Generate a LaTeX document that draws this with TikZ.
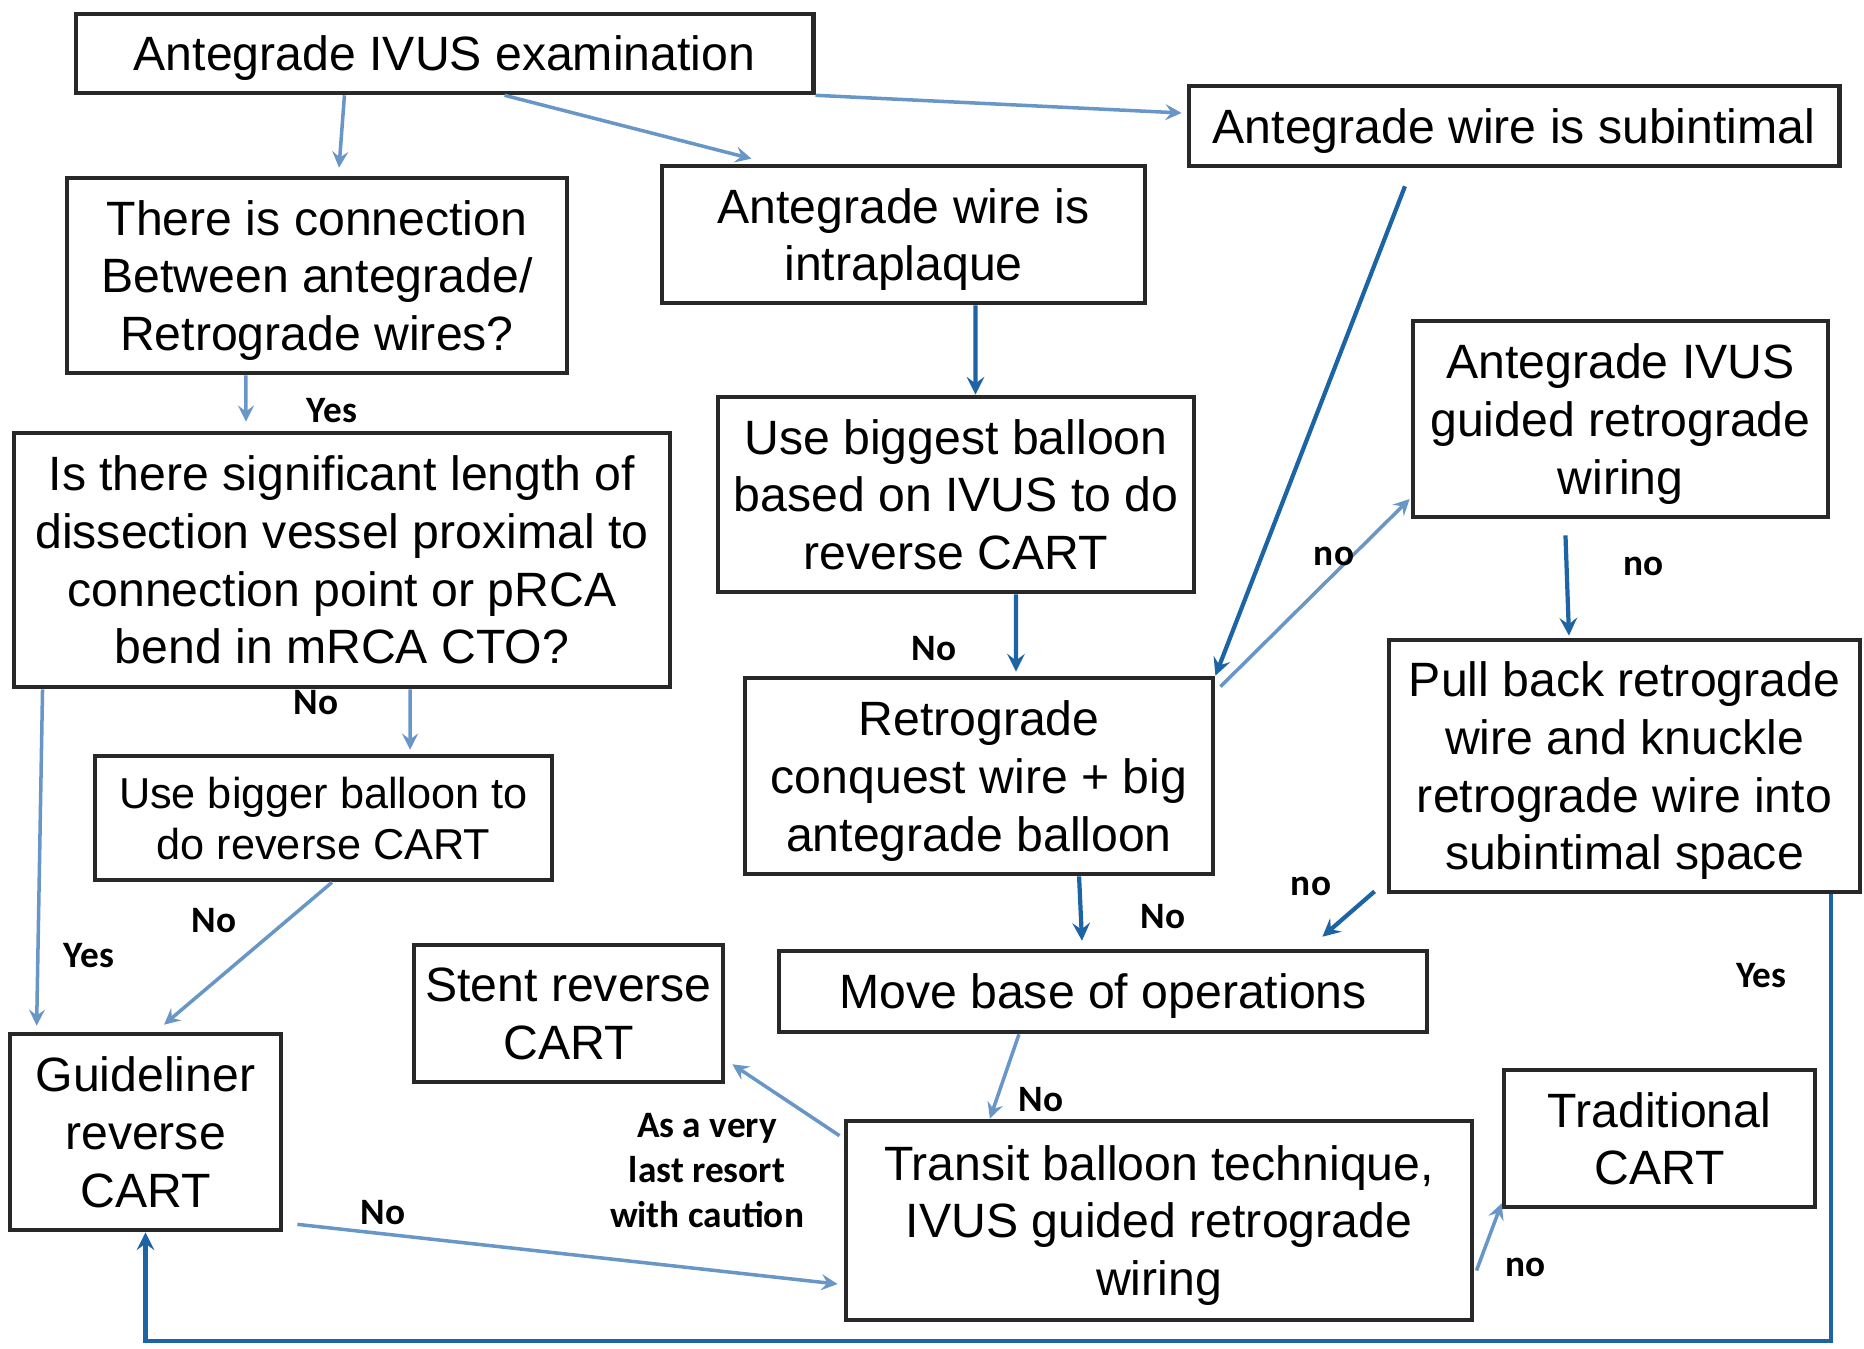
\documentclass[tikz,border=0pt]{standalone}
\usepackage{fontspec}
\setmainfont{Liberation Sans}
\newfontfamily\lblfont{Carlito}
\usepackage{xcolor}
\usetikzlibrary{calc, positioning}

\definecolor{boxline}{RGB}{40,40,40}
\definecolor{paleblue}{RGB}{104,150,198}
\definecolor{deepblue}{RGB}{28,100,164}

\begin{document}
\begin{tikzpicture}[>=stealth, x=0.01cm, y=-0.01cm,
    box/.style={draw=boxline, line width=1.3pt, align=center, inner sep=0pt,
                text depth=-3pt, font=\fontsize{13.7}{16.4}\selectfont},
    lbl/.style={font=\lblfont\bfseries\fontsize{10.6}{12.8}\selectfont,
                align=center, inner sep=0pt},
    pale/.style={->, draw=paleblue, line width=1pt},
    deep/.style={->, draw=deepblue, line width=1.2pt}]

    % =================================================================
    % 1. KHUNG HINH
    % =================================================================
    \useasboundingbox (0,0) rectangle (1864,1349);

    % =================================================================
    % 2. CAC HOP
    % =================================================================
    \node[box, minimum width=7.37cm, minimum height=0.79cm] (Exam) at (444.5,53.5)
        {Antegrade IVUS examination};
    \node[box, minimum width=6.50cm, minimum height=0.80cm] (Subint) at (1514,126)
        {Antegrade wire is subintimal};
    \node[box, minimum width=5.00cm, minimum height=1.95cm] (Connect) at (317,275.5)
        {There is connection\\Between antegrade/\\Retrograde wires?};
    \node[box, minimum width=4.83cm, minimum height=1.37cm] (Intra) at (903.5,234.5)
        {Antegrade wire is\\intraplaque};
    \node[box, minimum width=6.56cm, minimum height=2.54cm] (Signif) at (342,560)
        {Is there significant length of\\dissection vessel proximal to\\connection point or pRCA\\bend in mRCA CTO?};
    \node[box, minimum width=4.76cm, minimum height=1.95cm] (Biggest) at (956,494.5)
        {Use biggest balloon\\based on IVUS to do\\reverse CART};
    \node[box, minimum width=4.15cm, minimum height=1.96cm] (Guided) at (1620.5,419)
        {Antegrade IVUS\\guided retrograde\\wiring};
    \node[box, minimum width=4.68cm, minimum height=1.96cm] (Conquest) at (979,776)
        {Retrograde\\conquest wire + big\\antegrade balloon};
    \node[box, minimum width=4.71cm, minimum height=2.52cm] (Pull) at (1624.5,766)
        {Pull back retrograde\\wire and knuckle\\retrograde wire into\\subintimal space};
    \node[box, minimum width=4.57cm, minimum height=1.24cm,
          font=\fontsize{12.3}{14.5}\selectfont] (Bigger) at (323.5,818)
        {Use bigger balloon to\\do reverse CART};
    \node[box, minimum width=6.48cm, minimum height=0.81cm] (Move) at (1103,991.5)
        {Move base of operations};
    \node[box, minimum width=3.09cm, minimum height=1.37cm] (Stent) at (568.5,1013.5)
        {Stent reverse\\CART};
    \node[box, minimum width=2.71cm, minimum height=1.96cm] (Guide) at (145.5,1132)
        {Guideliner\\reverse\\CART};
    \node[box, minimum width=6.26cm, minimum height=1.99cm] (Transit) at (1159,1220.5)
        {Transit balloon technique,\\IVUS guided retrograde\\wiring};
    \node[box, minimum width=3.11cm, minimum height=1.37cm] (Trad) at (1659.5,1138.5)
        {Traditional\\CART};

    % =================================================================
    % 3. CAC MUI TEN
    % =================================================================
    \draw[pale] ([xshift=-1.0cm]Exam.south) -- ([xshift=0.22cm,yshift=0.08cm]Connect.north);
    \draw[pale] ([xshift=0.6cm]Exam.south) -- ([xshift=-1.52cm,yshift=0.05cm]Intra.north);
    \draw[pale] (Exam.south east) -- ([xshift=-0.05cm,yshift=0.13cm]Subint.west);
    \draw[deep] ([xshift=-1.09cm,yshift=-0.18cm]Subint.south) -- (Conquest.north east);
    \draw[deep] ([xshift=0.72cm]Intra.south) -- ([xshift=0.195cm]Biggest.north);
    \draw[deep] ([xshift=0.6cm]Biggest.south) -- ([xshift=0.37cm,yshift=0.04cm]Conquest.north);
    \draw[pale] ([xshift=-0.71cm]Connect.south) -- ([xshift=-0.96cm,yshift=0.09cm]Signif.north);
    \draw[pale] ([xshift=0.68cm]Signif.south) -- ([xshift=0.865cm,yshift=0.04cm]Bigger.north);
    \draw[pale] ([xshift=0.31cm]Signif.south west) -- ([xshift=0.29cm,yshift=0.06cm]Guide.north west);
    \draw[pale] ([xshift=0.085cm]Bigger.south) -- ([xshift=0.185cm,yshift=0.07cm]Guide.north);
    \draw[pale] ([xshift=0.05cm,yshift=-0.11cm]Conquest.north east) -- ([xshift=-0.01cm,yshift=-0.8cm]Guided.west);
    \draw[deep] ([xshift=-0.55cm,yshift=-0.16cm]Guided.south) -- ([xshift=-0.555cm,yshift=0.02cm]Pull.north);
    \draw[deep] ([xshift=-0.12cm,yshift=0.03cm]Pull.south west) -- ([xshift=-1.07cm,yshift=0.12cm]Move.north east);
    \draw[deep] ([xshift=1.0cm]Conquest.south) -- ([xshift=-0.21cm,yshift=0.08cm]Move.north);
    \draw[pale] ([xshift=-0.84cm]Move.south) -- ([xshift=-1.69cm]Transit.north);
    \draw[pale] ([xshift=-0.04cm,yshift=-0.17cm]Transit.north west) -- ([xshift=0.07cm,yshift=0.2cm]Stent.south east);
    \draw[pale] ([xshift=0.14cm,yshift=0.08cm]Guide.south east) -- ([xshift=-0.06cm,yshift=-0.635cm]Transit.west);
    \draw[pale] ([xshift=0.02cm,yshift=-0.5cm]Transit.east) -- ([yshift=0.06cm]Trad.south west);

    % Vong ve tu Pull ve Guideliner
    \coordinate (LoopCorner) at (1831,1341);
    \draw[deep] (LoopCorner |- Pull.south) -- (LoopCorner) -| (Guide.south);

    % =================================================================
    % 4. NHAN
    % =================================================================
    \node[lbl] (YesA) at (332,411) {Yes};
    \node[lbl] (NoA) at (316,703) {No};
    \node[lbl] (YesB) at (89,956) {Yes};
    \node[lbl] (NoB) at (214,921) {No};
    \node[lbl] (NoC) at (934,649) {No};
    \node[lbl] (noD) at (1334,556) {no};
    \node[lbl] (noE) at (1643,566) {no};
    \node[lbl] (noF) at (1311,886) {no};
    \node[lbl] (NoG) at (1163,917) {No};
    \node[lbl] (NoH) at (1041,1100) {No};
    \node[lbl] (Resort) at (707,1171) {As a very\\last resort\\with caution};
    \node[lbl] (NoI) at (383,1213) {No};
    \node[lbl] (noJ) at (1525,1267) {no};
    \node[lbl] (YesC) at (1761,976) {Yes};

\end{tikzpicture}
\end{document}
